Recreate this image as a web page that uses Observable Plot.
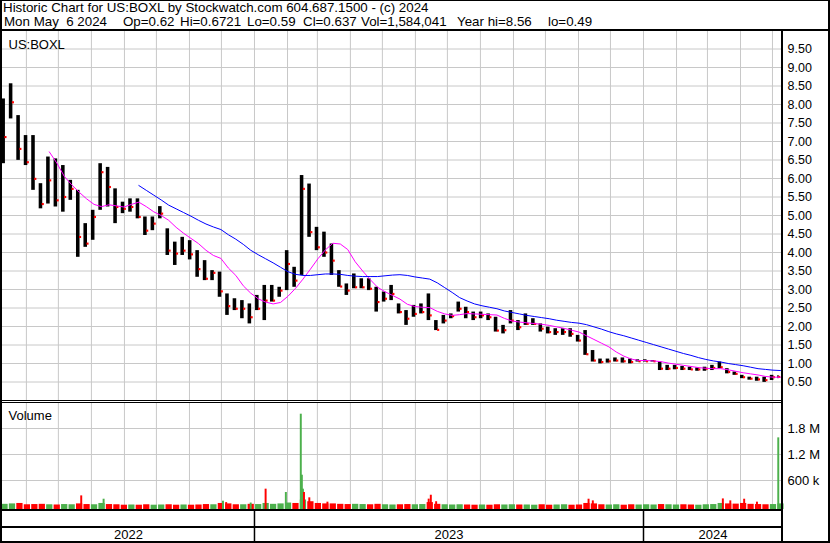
<!DOCTYPE html>
<html><head><meta charset="utf-8">
<script src="https://cdn.jsdelivr.net/npm/d3@7"></script>
<script src="https://cdn.jsdelivr.net/npm/@observablehq/plot@0.6"></script>
<style>
body{margin:0;background:#fff;}
#chart{position:relative;width:830px;height:543px;overflow:hidden;background:#fff;font-family:"Liberation Sans",Arial,sans-serif;}
.hdr{position:absolute;font-size:13.33px;line-height:14px;white-space:pre;color:#000;}
.ln{position:absolute;background:#000;}
.pnl{position:absolute;left:0;}
.pnl svg{display:block;}
</style></head><body><div id="chart"></div>
<script>
// ---------- data (weekly) ----------
const titleLine = "Historic Chart for US:BOXL by Stockwatch.com 604.687.1500 - (c) 2024";
const infoFields = ["Mon May  6 2024", "Op=0.62", "Hi=0.6721", "Lo=0.59", "Cl=0.637", "Vol=1,584,041", "Year hi=8.56", "lo=0.49"];
const symbol = "US:BOXL";
const firstWeek = "2022-05-09", lastDay = "2024-05-06";
const highs = [8.15,8.56,7.70,7.16,7.16,5.86,6.58,6.53,6.35,5.95, 5.68,4.78,5.14,6.40,6.30,5.72,5.36,5.45,5.45,4.96,
  4.96,5.24,4.64,4.28,4.41,4.32,4.05,3.78,3.51,3.47, 2.88,2.75,2.70,2.61,2.84,3.11,3.11,3.06,4.05,3.60,
  6.08,5.85,4.68,4.55,4.23,3.51,3.15,3.42,3.29,3.29, 3.06,2.93,3.11,2.61,2.43,2.57,2.61,2.88,2.16,2.30,
  2.34,2.66,2.52,2.39,2.39,2.34,2.25,2.03,2.43,2.16, 2.34,2.21,2.07,1.98,1.94,1.94,1.94,1.76,1.89,1.35,
  1.12,1.12,1.15,1.15,1.12,1.10,1.10,1.08,1.04,0.95, 0.95,0.92,0.90,0.88,0.90,0.95,1.04,0.86,0.77,0.68,
  0.63,0.63,0.63,0.68,0.6721];
const lows = [6.40,7.61,6.49,6.35,5.68,5.18,5.31,5.23,5.09,5.41, 3.87,4.14,4.33,5.14,5.23,4.78,5.05,5.09,4.91,4.46,
  4.59,4.91,3.92,3.65,3.92,3.80,3.33,3.24,3.24,2.79, 2.30,2.43,2.21,2.07,2.43,2.16,2.66,2.79,2.97,3.06,
  3.38,4.41,4.05,3.87,3.38,3.06,2.84,3.02,3.02,2.97, 2.39,2.66,2.70,2.34,2.03,2.25,2.34,2.16,1.89,2.07,
  2.21,2.39,2.21,2.16,2.21,2.16,1.85,1.80,2.07,1.89, 2.03,2.03,1.85,1.80,1.76,1.76,1.71,1.58,1.22,1.04,
  0.99,1.01,1.04,1.01,0.99,1.04,1.04,1.04,0.81,0.81, 0.83,0.81,0.81,0.79,0.79,0.81,0.86,0.72,0.68,0.59,
  0.55,0.52,0.49,0.54,0.59];
const closes = [7.12,8.06,6.80,6.44,5.99,5.31,5.95,5.41,5.50,5.72, 4.42,4.24,4.96,6.17,5.77,5.23,5.18,5.23,4.96,4.59,
  4.78,5.05,4.05,3.97,4.05,3.95,3.55,3.29,3.45,2.95, 2.55,2.48,2.48,2.25,2.48,2.70,2.70,2.97,3.69,3.24,
  5.72,4.55,4.14,4.00,3.78,3.08,2.97,3.06,3.06,3.02, 2.66,2.75,2.88,2.39,2.21,2.34,2.39,2.30,1.91,2.16,
  2.28,2.48,2.39,2.25,2.30,2.25,1.89,1.90,2.16,1.98, 2.07,2.07,1.94,1.85,1.85,1.85,1.80,1.62,1.25,1.08,
  1.04,1.06,1.08,1.06,1.04,1.06,1.06,1.06,0.86,0.86, 0.88,0.86,0.84,0.84,0.86,0.88,0.90,0.77,0.72,0.63,
  0.59,0.57,0.55,0.63,0.637];
const maShort = [null,null,null,null,null,null,6.72,6.42,6.06,5.83,
  5.63,5.45,5.30,5.24,5.29,5.26,5.23,5.30,5.36,5.24, 5.10,5.00,4.87,4.68,4.52,4.38,4.24,4.06,3.92,3.84,
  3.58,3.38,3.10,2.90,2.75,2.66,2.61,2.65,2.82,3.03, 3.28,3.55,3.83,4.07,4.25,4.23,4.08,3.75,3.50,3.27,
  3.06,2.94,2.84,2.74,2.60,2.54,2.52,2.51,2.41,2.34, 2.30,2.32,2.35,2.34,2.33,2.32,2.31,2.22,2.15,2.12,
  2.10,2.08,2.06,2.03,1.99,1.95,1.90,1.85,1.75,1.65, 1.55,1.45,1.31,1.20,1.12,1.08,1.08,1.07,1.05,1.01,
  0.98,0.95,0.92,0.89,0.87,0.86,0.86,0.83,0.79,0.75, 0.72,0.69,0.65,0.63,0.63];
const maLong = [null,null,null,null,null,null,null,null,null,null,null,null,null,null,null,null,null,null,5.81,5.68,
  5.55,5.42,5.28,5.18,5.08,4.98,4.87,4.77,4.69,4.62, 4.48,4.36,4.22,4.06,3.94,3.83,3.72,3.60,3.48,3.41,
  3.38,3.38,3.40,3.42,3.42,3.41,3.38,3.36,3.35,3.35, 3.35,3.37,3.39,3.40,3.38,3.34,3.31,3.28,3.18,3.05,
  2.92,2.78,2.69,2.61,2.56,2.52,2.48,2.42,2.38,2.34, 2.30,2.27,2.24,2.21,2.17,2.14,2.11,2.09,2.05,1.99,
  1.93,1.86,1.80,1.75,1.69,1.63,1.57,1.51,1.45,1.39, 1.33,1.27,1.22,1.16,1.11,1.07,1.04,1.00,0.97,0.94,
  0.90,0.86,0.84,0.82,0.81];
// typical daily volume of each week, thousands of shares
const volBase = [50,60,70,40,45,50,40,35,45,40, 60,45,40,70,45,40,30,35,30,40,
  30,35,40,30,35,30,35,45,40,70, 60,40,40,50,45,70,50,60,80,70,
  150,110,70,60,60,50,45,50,45,40, 50,40,35,40,45,40,45,90,50,40,
  35,40,35,30,35,30,40,35,40,35, 35,30,40,30,35,40,30,35,70,60,
  40,35,40,30,40,35,40,35,45,40, 35,40,35,30,40,45,70,60,55,70,
  50,45,40,45,60];
// single-day volume spikes, thousands of shares
const spikeDates = ["2022-07-22","2022-08-12","2022-12-02","2022-12-05","2022-12-28","2023-01-11","2023-01-30",
  "2023-02-13","2023-02-14","2023-02-15","2023-02-16","2023-02-21","2023-03-10","2023-06-13","2023-06-15",
  "2023-06-20","2023-11-10","2023-11-14","2024-03-15","2024-03-22","2024-04-04","2024-04-16","2024-05-06"];
const spikeVols = [245,168,122,90,80,400,323,2130,722,400,323,200,100,170,260,110,168,130,175,130,168,100,1584.041];
const spikeUp = [0,1,1,0,1,0,1,1,1,1,0,0,0,0,0,0,0,0,0,0,0,0,1];
const priceTicks = [0.5,1,1.5,2,2.5,3,3.5,4,4.5,5,5.5,6,6.5,7,7.5,8,8.5,9,9.5];
const volTicks = [600000,1200000,1800000];
const volLabels = ["600 k","1.2 M","1.8 M"];
const yearLabels = ["2022","2023","2024"];

// ---------- build ----------
const RED = "#ff0000", GREEN = "#4cb04c", GRID = "#c8c8c8", FONT = "'Liberation Sans', Arial, sans-serif";
const D0 = new Date("2022-05-09T14:00Z"), D1 = new Date("2024-05-10T10:00Z");
const W = 830, ML = 2, MR = 48;
const weekStarts = d3.utcMonday.range(new Date(firstWeek), d3.utcDay.offset(new Date(lastDay), 1));
const weeks = weekStarts.map((d, i) => ({
  date: d,
  end: d3.utcHour.offset(d, i === weekStarts.length - 1 ? 30 : 80),
  mid: d3.utcHour.offset(d, 60),
  next: d3.utcDay.offset(d, 7),
  high: highs[i], low: lows[i], close: closes[i],
  maS: maShort[i], maL: maLong[i],
  vol: volBase[i] * 1000,
  color: (i === 0 || closes[i] >= closes[i - 1]) ? GREEN : RED
}));
const spikes = spikeDates.map((s, i) => {
  const d = new Date(s);
  return {date: d, end: d3.utcHour.offset(d, 44), vol: spikeVols[i] * 1000, color: spikeUp[i] ? GREEN : RED};
});
const months = d3.utcMonth.range(D0, D1);
const xOpt = {type: "utc", domain: [D0, D1], axis: null};
const style = {fontFamily: FONT, background: "transparent", overflow: "visible", color: "#000"};

const price = Plot.plot({
  width: W, height: 370, marginLeft: ML, marginRight: MR, marginTop: 0, marginBottom: 0,
  x: xOpt, y: {domain: [0, 10], axis: null}, style,
  marks: [
    Plot.gridX(months, {stroke: GRID, strokeOpacity: 1}),
    Plot.gridY(priceTicks, {stroke: GRID, strokeOpacity: 1}),
    Plot.axisY(priceTicks, {anchor: "right", tickSize: 0, tickPadding: 5, tickFormat: d => d.toFixed(2), fontSize: 12.5, fill: "#000", label: null}),
    Plot.rect(weeks, {x1: "date", x2: "end", y1: "low", y2: "high", fill: "#000"}),
    Plot.dot(weeks, {x: "end", y: "close", symbol: "square", r: 1.2, fill: RED, stroke: null}),
    Plot.line(weeks, {x: "mid", y: "maS", stroke: "#ff00ff", strokeWidth: 1}),
    Plot.line(weeks, {x: "mid", y: "maL", stroke: "#0000ff", strokeWidth: 1}),
    Plot.text([symbol], {frameAnchor: "top-left", dx: 6, dy: 9, fontSize: 13, fill: "#000", textAnchor: "start"})
  ]
});

const VMIN = -69230;
const volume = Plot.plot({
  width: W, height: 111, marginLeft: ML, marginRight: MR, marginTop: 2, marginBottom: 2,
  x: xOpt, y: {domain: [VMIN, 2400000], axis: null}, style,
  marks: [
    Plot.gridX(months, {stroke: GRID, strokeOpacity: 1}),
    Plot.gridY(volTicks, {stroke: GRID, strokeOpacity: 1}),
    Plot.axisY(volTicks, {anchor: "right", tickSize: 0, tickPadding: 5, tickFormat: (d, i) => volLabels[i], fontSize: 13, fill: "#000", label: null}),
    Plot.rect(weeks, {x1: "date", x2: "next", y1: VMIN, y2: "vol", fill: "color", insetRight: 1.2}),
    Plot.rect(spikes, {x1: "date", x2: "end", y1: VMIN, y2: "vol", fill: "color"}),
    Plot.text(["Volume"], {frameAnchor: "top-left", dx: 6, dy: 8, fontSize: 13, fill: "#000", textAnchor: "start"})
  ]
});

const yearStarts = yearLabels.map(y => new Date(y + "-01-01"));
const yearRows = yearLabels.map((y, i) => {
  const a = i === 0 ? D0 : yearStarts[i];
  const b = i === yearLabels.length - 1 ? D1 : yearStarts[i + 1];
  return {label: y, mid: new Date((+a + +b) / 2)};
});
const years = Plot.plot({
  width: W, height: 34, marginLeft: ML, marginRight: MR, marginTop: 0, marginBottom: 0,
  x: xOpt, y: {domain: [0, 34], range: [0, 34], axis: null}, style,
  marks: [
    Plot.ruleX(yearStarts.slice(1), {y1: 1, y2: 33, stroke: "#000", strokeWidth: 1.5}),
    Plot.text(yearRows, {x: "mid", y: 25.5, text: "label", fontSize: 13, fill: "#000"})
  ]
});

const root = document.getElementById("chart");
function place(el, top) { const d = document.createElement("div"); d.className = "pnl"; d.style.top = top + "px"; d.appendChild(el); root.appendChild(d); }
place(price, 30);
place(volume, 400);
place(years, 509);
function hdr(text, left, top) { const d = document.createElement("div"); d.className = "hdr"; d.style.left = left + "px"; d.style.top = top + "px"; d.textContent = text; root.appendChild(d); }
hdr(titleLine, 3, 1);
const fieldLeft = [4, 123, 180, 247, 303, 361, 457, 548];
infoFields.forEach((t, i) => hdr(t, fieldLeft[i], 15));
// frame lines (decoration)
[[0,0,830,1],[0,0,2,543],[828,0,2,543],[0,541,830,2],[0,29,830,2],[781,30,2,513],
 [0,400,782,1],[0,402,782,1],[0,509,782,2],[0,526,782,2]].forEach(([x,y,w,h]) => {
  const d = document.createElement("div"); d.className = "ln";
  Object.assign(d.style, {left: x + "px", top: y + "px", width: w + "px", height: h + "px"});
  root.appendChild(d);
});
</script></body></html>
